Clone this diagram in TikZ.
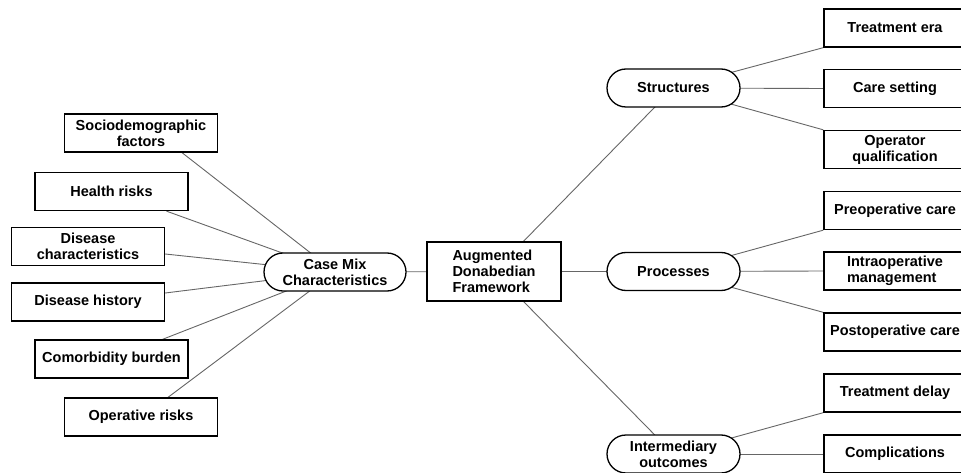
\documentclass[tikz,border=0pt]{standalone}
\usepackage{fontspec}
\setmainfont{Liberation Sans}
\usetikzlibrary{shapes.misc,backgrounds,calc}

\begin{document}
\begin{tikzpicture}[
      x=1pt, y=-1pt,
      every node/.style={font=\bfseries\fontsize{14.5}{16}\selectfont},
      box/.style={draw, line width=1.3pt, fill=white, minimum width=153pt, minimum height=38pt, inner sep=2pt, align=center},
      hub/.style={box, minimum width=134pt, minimum height=59pt, align=left},
      leaf/.style={box, minimum width=142pt},
      pill/.style={draw, line width=1.3pt, fill=white, rounded rectangle, minimum width=137pt, minimum height=38pt, inner sep=2pt, align=center},
      link/.style={draw=black!60, line width=0.9pt}
  ]
    \useasboundingbox (0,0) rectangle (961,473);

    % case mix side
    \node[box] (soc) at (141,133)   {Sociodemographic\\factors};
    \node[box] (hr)  at (111.5,191.5) {Health risks};
    \node[box] (dc)  at (88,246.5)  {Disease\\characteristics};
    \node[box] (dh)  at (88,302)    {Disease history};
    \node[box] (cb)  at (111.5,359) {Comorbidity burden};
    \node[box] (opr) at (141,417)   {Operative risks};
    \node[pill, minimum width=146pt] (cm) at (335,272) {Case Mix\\Characteristics};

    \node[hub] (adf) at (494,271.5) {Augmented\\Donabedian\\Framework};

    % donabedian side
    \node[pill] (st) at (673.5,88)    {Structures};
    \node[pill] (pr) at (673.5,271.5) {Processes};
    \node[pill] (io) at (673.5,454)   {Intermediary\\outcomes};

    \node[leaf] (te)    at (895,28)    {Treatment era};
    \node[leaf] (cs)    at (895,88.5)  {Care setting};
    \node[leaf] (oq)    at (895,149.5) {Operator\\qualification};
    \node[leaf] (pre)   at (895,210.5) {Preoperative care};
    \node[leaf, align=left] (intra) at (895,271) {Intraoperative\\management};
    \node[leaf] (post)  at (895,332)   {Postoperative care};
    \node[leaf] (td)    at (895,393)   {Treatment delay};
    \node[leaf] (cp)    at (895,454)   {Complications};

    \begin{scope}[on background layer]
      \draw[link] ([xshift=41pt]soc.south) -- (cm.center);
      \draw[link] ([xshift=55pt]hr.south) -- (cm.center);
      \draw[link] ([yshift=-7.5pt]dc.east) -- (cm.center);
      \draw[link] ([yshift=9pt]dh.east) -- (cm.center);
      \draw[link] ([xshift=51pt]cb.north) -- (cm.center);
      \draw[link] ([xshift=27pt]opr.north) -- (cm.center);

      \draw[link] (cm.center) -- (adf.center);
      \draw[link] (adf.center) -- (st.center);
      \draw[link] (adf.center) -- (pr.center);
      \draw[link] (adf.center) -- (io.center);

      \draw[link] (st.center) -- (te.south west);
      \draw[link] (st.center) -- (cs.west);
      \draw[link] (st.center) -- (oq.north west);
      \draw[link] (pr.center) -- (pre.south west);
      \draw[link] (pr.center) -- (intra.west);
      \draw[link] (pr.center) -- (post.north west);
      \draw[link] (io.center) -- (td.south west);
      \draw[link] (io.center) -- (cp.west);
    \end{scope}
  \end{tikzpicture}
\end{document}
